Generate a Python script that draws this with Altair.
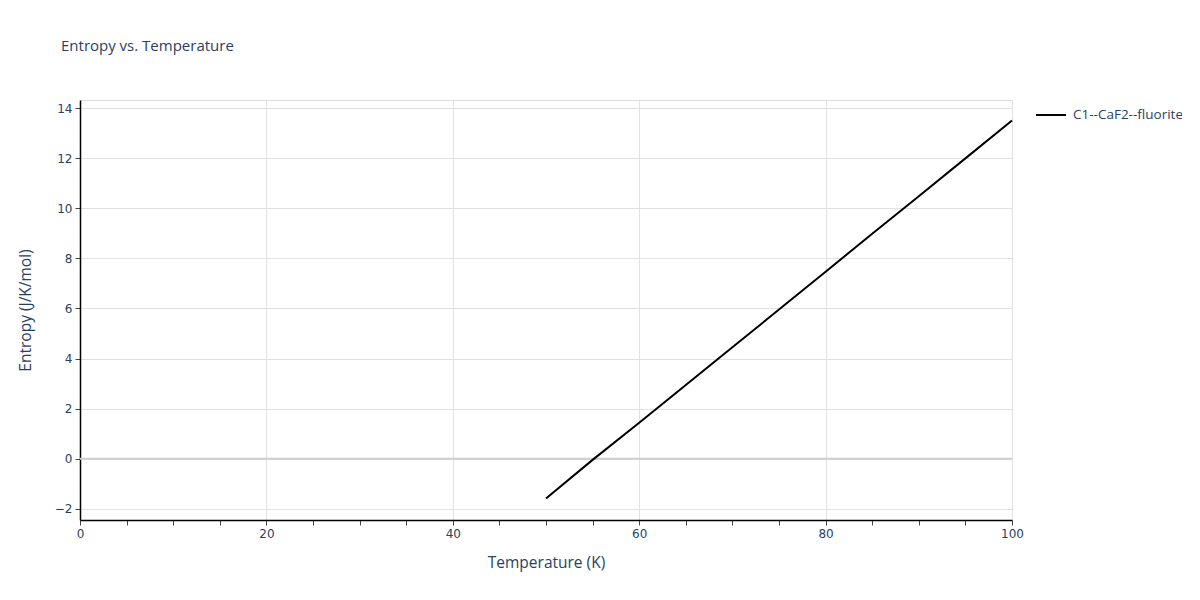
import altair as alt
import pandas as pd

temperature = [50, 55, 60, 65, 70, 75, 80, 85, 90, 95, 100]
entropy = [-1.58, -0.04, 1.44, 2.95, 4.45, 5.96, 7.47, 8.98, 10.48, 11.99, 13.5]
series = "C1--CaF2--fluorite"

df = pd.DataFrame({"T": temperature, "S": entropy, "series": [series] * len(temperature)})

FONT = "Open Sans"
TICKFONT = "DejaVu Sans"
TXT = "#2a3f5f"

x_ticks = list(range(0, 101, 5))
y_ticks = [v / 2 for v in range(-4, 29)]

x_scale = alt.Scale(domain=[0, 100], nice=False, zero=False)
y_scale = alt.Scale(domain=[-2.44, 14.32], nice=False, zero=False)

line = alt.Chart(df).mark_line(strokeWidth=2).encode(
    x=alt.X("T:Q", scale=x_scale, title="Temperature (K)",
            axis=alt.Axis(values=x_ticks,
                          labelExpr="datum.value % 20 === 0 ? datum.label : ''",
                          gridOpacity={"condition": {"test": "datum.value % 20 === 0 && datum.value !== 0", "value": 1}, "value": 0},
                          gridColor="#e1e1e1", gridWidth=1,
                          domainColor="#000000", domainWidth=1.5,
                          tickColor="#444444", tickSize=5, tickWidth=1,
                          labelFlush=False,
                          labelFont=TICKFONT, labelFontSize=12, labelColor=TXT, labelPadding=3,
                          titleFont=FONT, titleFontSize=15.5, titleColor=TXT, titleFontWeight="normal",
                          titlePadding=16)),
    y=alt.Y("S:Q", scale=y_scale, title="Entropy (J/K/mol)",
            axis=alt.Axis(values=y_ticks,
                          labelExpr="datum.value % 2 === 0 ? datum.label : ''",
                          gridOpacity={"condition": {"test": "datum.value % 2 === 0", "value": 1}, "value": 0},
                          gridColor="#e1e1e1", gridWidth=1,
                          domainColor="#000000", domainWidth=1.5,
                          tickColor="#444444", tickSize=5, tickWidth=1,
                          labelFlush=False,
                          labelFont=TICKFONT, labelFontSize=12, labelColor=TXT, labelPadding=3,
                          titleFont=FONT, titleFontSize=15.5, titleColor=TXT, titleFontWeight="normal",
                          titlePadding=21)),
    color=alt.Color("series:N", scale=alt.Scale(range=["#000000"]),
                    legend=alt.Legend(title=None, orient="none", legendX=955, legendY=-1,
                                      symbolType="stroke", symbolStrokeWidth=2, symbolSize=900,
                                      labelFont=FONT, labelFontSize=13.5, labelColor=TXT,
                                      labelOffset=6)),
)

zero = alt.Chart(pd.DataFrame({"z": [0]})).mark_rule(color="#cfcfcf", strokeWidth=2).encode(
    y=alt.Y("z:Q", scale=y_scale)
)

chart = alt.layer(zero, line).properties(
    width=932, height=420,
    title=alt.TitleParams("Entropy vs. Temperature", anchor="start", frame="group", dx=-19, offset=45,
                          font=FONT, fontSize=15, color=TXT, fontWeight="normal"),
    autosize=alt.AutoSizeParams(type="none"),
    padding={"left": 72, "top": 92, "right": 170, "bottom": 64},
).configure_view(stroke=None).configure(background="white")

chart.save("out.html", embed_options={"renderer": "svg", "actions": False})
